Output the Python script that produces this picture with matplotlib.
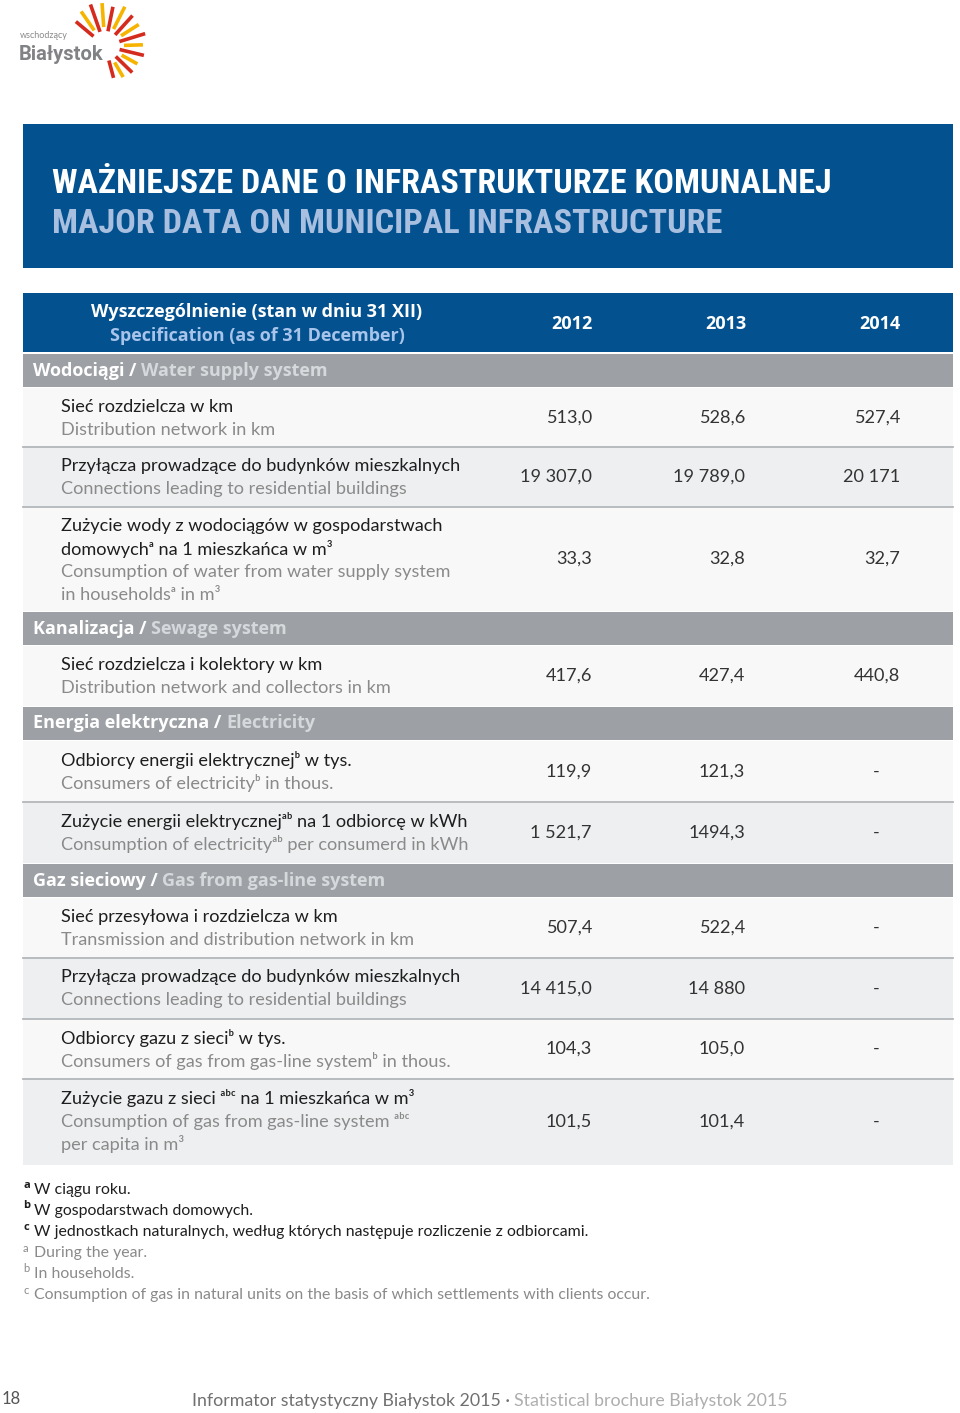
import numpy as np
import matplotlib.pyplot as plt
from matplotlib import font_manager
from matplotlib.font_manager import FontProperties

## Data
years = ['2012', '2013', '2014']
sections_pl = ['Wodociągi', 'Kanalizacja', 'Energia elektryczna', 'Gaz sieciowy']
sections_en = ['Water supply system', 'Sewage system', 'Electricity', 'Gas from gas-line system']
row_section = [0, 0, 0, 1, 2, 2, 3, 3, 3, 3]
labels_pl = [
    'Sieć rozdzielcza w km',
    'Przyłącza prowadzące do budynków mieszkalnych',
    'Zużycie wody z wodociągów w gospodarstwach\ndomowychᵃ na 1 mieszkańca w m³',
    'Sieć rozdzielcza i kolektory w km',
    'Odbiorcy energii elektrycznejᵇ w tys.',
    'Zużycie energii elektrycznejᵃᵇ na 1 odbiorcę w kWh',
    'Sieć przesyłowa i rozdzielcza w km',
    'Przyłącza prowadzące do budynków mieszkalnych',
    'Odbiorcy gazu z sieciᵇ w tys.',
    'Zużycie gazu z sieci ᵃᵇᶜ na 1 mieszkańca w m³',
]
labels_en = [
    'Distribution network in km',
    'Connections leading to residential buildings',
    'Consumption of water from water supply system\nin householdsᵃ in m³',
    'Distribution network and collectors in km',
    'Consumers of electricityᵇ in thous.',
    'Consumption of electricityᵃᵇ per consumerd in kWh',
    'Transmission and distribution network in km',
    'Connections leading to residential buildings',
    'Consumers of gas from gas-line systemᵇ in thous.',
    'Consumption of gas from gas-line system ᵃᵇᶜ\nper capita in m³',
]
v2012 = ['513,0', '19 307,0', '33,3', '417,6', '119,9', '1 521,7', '507,4', '14 415,0', '104,3', '101,5']
v2013 = ['528,6', '19 789,0', '32,8', '427,4', '121,3', '1494,3', '522,4', '14 880', '105,0', '101,4']
v2014 = ['527,4', '20 171', '32,7', '440,8', '-', '-', '-', '-', '-', '-']
notes_pl = ['W ciągu roku.', 'W gospodarstwach domowych.',
            'W jednostkach naturalnych, według których następuje rozliczenie z odbiorcami.']
notes_en = ['During the year.', 'In households.',
            'Consumption of gas in natural units on the basis of which settlements with clients occur.']
note_marks = ['a', 'b', 'c']

## Styles
def is_bold(f):
    w = f.weight
    return (w >= 600) if isinstance(w, int) else w in ('bold', 'semibold', 'demibold', 'heavy', 'extra bold', 'black')

narrow_files = [f for f in font_manager.fontManager.ttflist
                if is_bold(f) and ('Condensed' in f.name or 'Narrow' in f.name
                                   or 'condensed' in str(f.stretch))]
narrow_files.sort(key=lambda f: (0 if 'Roboto' in f.name else 1, f.name))
if narrow_files:
    title_fp = FontProperties(fname=narrow_files[0].fname)
else:
    title_fp = FontProperties(family='Roboto', weight='bold')

light = ['Lato', 'DejaVu Sans']
BLUE = '#03528f'
LBLUE = '#a8bfe0'
SEC = '#9da1a5'
SEC_EN = '#d6d9dc'
ROW_A = '#f8f8f8'
ROW_B = '#eeeff0'
LINE = '#b4b7ba'
PL_C = '#1e1e1e'
EN_C = '#8a8a8a'
FS = 13.1

W, H = 960, 1413
fig = plt.figure(figsize=(W / 100, H / 100), dpi=100)
ax = fig.add_axes([0, 0, 1, 1])
ax.set_xlim(0, W)
ax.set_ylim(H, 0)
ax.axis('off')
renderer = fig.canvas.get_renderer()


def seq_text(x, y, parts, **kw):
    for s, c in parts:
        t = ax.text(x, y, s, color=c, **kw)
        x += t.get_window_extent(renderer).width


def fit_text(x, y, s, width, **kw):
    t = ax.text(x, y, s, fontproperties=title_fp.copy(), **kw)
    t.set_fontsize(20)
    w = t.get_window_extent(renderer).width
    t.set_fontsize(20 * width / w)
    return t


## Logo
ax.text(20, 36, 'wschodzący', fontsize=6.5, color='#8a8a8a', family=light, va='center')
ax.text(19, 55, 'Białystok', fontsize=14.5, color='#808285', family='Roboto',
        fontweight='bold', va='center')
angles = np.deg2rad(np.linspace(140, -75, 15))
outer = [38, 42, 44, 43, 40, 44, 41, 40, 42, 38, 40, 37, 38, 36, 33]
for i, (a, r) in enumerate(zip(angles, outer)):
    r0 = 15 if i % 2 == 0 else 19
    ax.plot([105 + r0 * np.cos(a), 105 + r * np.cos(a)],
            [46 - r0 * np.sin(a), 46 - r * np.sin(a)],
            color='#d52b1e' if i % 2 == 0 else '#f6b400', lw=2.6, solid_capstyle='butt')

## Title banner
ax.add_patch(plt.Rectangle((23, 124), 930, 144, color=BLUE, lw=0))
fit_text(52, 193, 'WAŻNIEJSZE DANE O INFRASTRUKTURZE KOMUNALNEJ', 778, color='white', va='baseline')
fit_text(52, 233, 'MAJOR DATA ON MUNICIPAL INFRASTRUCTURE', 670, color=LBLUE, va='baseline')

## Table header
ax.add_patch(plt.Rectangle((23, 293), 930, 59, color=BLUE, lw=0))
ax.text(257, 312, 'Wyszczególnienie (stan w dniu 31 XII)', color='white', fontsize=13,
        family='Open Sans', fontweight='bold', ha='center', va='center')
ax.text(257, 336, 'Specification (as of 31 December)', color='#a9c4ea', fontsize=13,
        family='Open Sans', fontweight='bold', ha='center', va='center')
col_x = [572, 726, 880]
for cx, yr in zip(col_x, years):
    ax.text(cx, 324, yr, color='white', fontsize=13, family='Open Sans',
            fontweight='bold', ha='center', va='center')

## Body
row_h = [59, 60, 104, 60, 61, 61, 60, 61, 60, 86]
sec_h = 35
right_x = [592, 745, 900]
y = 353
for i in range(len(labels_pl)):
    s = row_section[i]
    if i == 0 or row_section[i - 1] != s:
        ax.add_patch(plt.Rectangle((23, y + 1), 930, sec_h - 2, color=SEC, lw=0))
        seq_text(33, y + sec_h / 2, [(sections_pl[s] + ' / ', 'white'), (sections_en[s], SEC_EN)],
                 fontsize=13, family='Open Sans', fontweight='bold', va='center')
        y += sec_h
        k = 0
    h = row_h[i]
    ax.add_patch(plt.Rectangle((23, y), 930, h, color=ROW_A if k % 2 == 0 else ROW_B, lw=0))
    if k > 0:
        ax.plot([23, 953], [y, y], color=LINE, lw=1.3)
    ty = y + 19
    for ln in labels_pl[i].split('\n'):
        ax.text(61, ty, ln, color=PL_C, fontsize=FS, family=light, va='center')
        ty += 23
    for ln in labels_en[i].split('\n'):
        ax.text(61, ty, ln, color=EN_C, fontsize=FS, family=light, va='center')
        ty += 23
    for j, vals in enumerate([v2012, v2013, v2014]):
        v = vals[i]
        if v == '-':
            ax.text(col_x[j] - 4, y + h / 2, v, color='#333333', fontsize=FS, family=light,
                    ha='center', va='center')
        else:
            ax.text(right_x[j], y + h / 2, v, color='#333333', fontsize=FS, family=light,
                    ha='right', va='center')
    y += h
    k += 1

## Footnotes
ny = 1190
for m, n in zip(note_marks, notes_pl):
    ax.text(23, ny - 5, m, color=PL_C, fontsize=8, family='Open Sans', fontweight='bold', va='center')
    ax.text(34, ny, n, color=PL_C, fontsize=11.4, family=light, va='center')
    ny += 21
for m, n in zip(note_marks, notes_en):
    ax.text(23, ny - 5, m, color=EN_C, fontsize=8, family=light, va='center')
    ax.text(34, ny, n, color=EN_C, fontsize=11.4, family=light, va='center')
    ny += 21

## Footer
ax.text(2, 1399, '18', color='#555555', fontsize=12, family=light, va='center')
seq_text(192, 1401, [('Informator statystyczny Białystok 2015 · ', '#707070'),
                     ('Statistical brochure Białystok 2015', '#aeaeae')],
         fontsize=12.8, family=light, va='center')

fig.savefig('out.png', dpi=100, facecolor='white')
